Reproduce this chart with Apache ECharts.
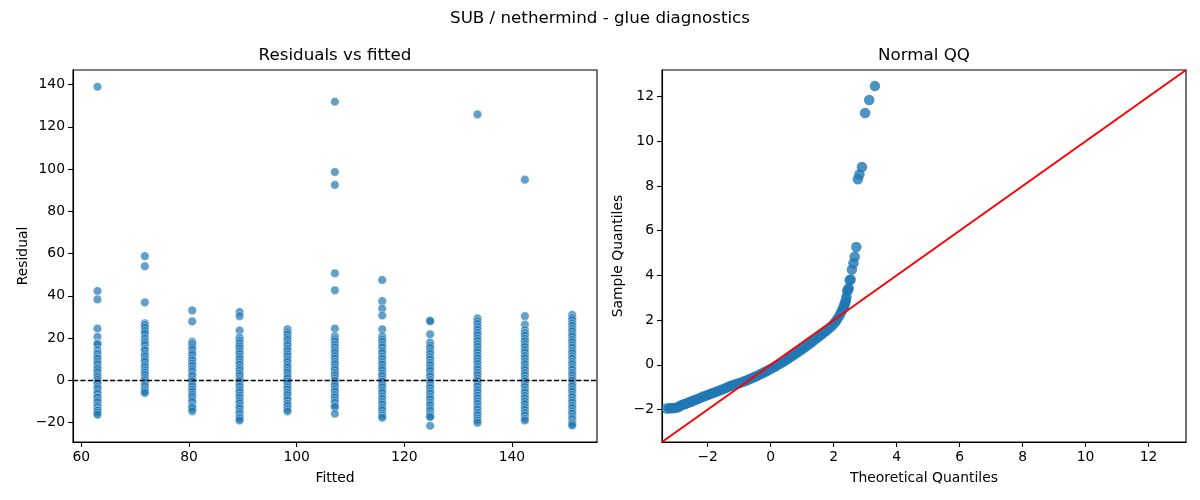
<!DOCTYPE html>
<html>
<head>
<meta charset="utf-8">
<title>SUB / nethermind - glue diagnostics</title>
<script src="https://cdn.jsdelivr.net/npm/echarts@6.0.0/dist/echarts.min.js"></script>
<style>
  html, body { margin: 0; padding: 0; background: #fff; }
  #main { width: 1200px; height: 500px; }
</style>
</head>
<body>
<div id="main"></div>
<script>
// fitted levels (one column of residuals each)
var fittedLevels = [63.0, 71.8, 80.6, 89.4, 98.3, 107.1, 115.9, 124.8, 133.6, 142.4, 151.2];

// residuals read per column
var res63 = [139.0, 42.3, 38.3, 24.5, 20.6, 17.4, 17.1, 14.3, 12.6, 11.0, 10.2, 8.7, 7.6, 6.1, 5.2, 3.9, 2.4, 1.5, 0.3, -0.9, -1.7, -3.2, -4.1, -5.6, -6.4, -7.9, -8.1, -9.6, -10.4, -11.9, -12.8, -14.0, -14.3, -15.3, -16.3];
var res72 = [58.8, 54.0, 36.9, 27.0, 26.2, 24.9, 23.4, 22.1, 19.9, 18.2, 16.9, 15.0, 14.1, 12.4, 11.4, 9.9, 8.9, 7.2, 6.2, 4.8, 3.7, 2.6, 1.2, 0.1, -1.0, -2.2, -3.0, -4.3, -5.1, -6.0];
var res81 = [33.1, 27.9, 18.2, 17.1, 15.7, 14.6, 13.0, 12.1, 10.4, 9.4, 8.0, 6.9, 5.4, 4.4, 2.9, 2.0, 0.5, -0.4, -1.9, -2.9, -4.3, -5.4, -6.8, -7.9, -9.3, -10.3, -11.9, -12.6, -13.2, -14.6];
var res89 = [32.3, 30.4, 23.6, 20.3, 18.9, 17.7, 16.3, 15.2, 13.7, 12.6, 11.1, 10.0, 8.5, 7.4, 5.9, 4.8, 3.3, 2.2, 0.7, -0.4, -1.9, -3.0, -4.5, -5.6, -7.1, -8.2, -9.7, -10.8, -12.3, -13.4, -14.9, -15.9, -17.3, -18.0, -19.0];
var res98 = [24.2, 22.8, 21.7, 20.2, 19.1, 17.6, 16.5, 15.0, 13.9, 12.4, 11.3, 9.8, 8.7, 7.2, 6.1, 4.6, 3.5, 2.0, 0.9, -0.6, -1.7, -3.2, -4.3, -5.8, -6.9, -8.4, -9.5, -11.0, -12.1, -13.6, -14.7];
var res107 = [131.9, 98.6, 92.5, 50.7, 42.6, 24.5, 20.9, 19.5, 18.5, 16.9, 15.6, 14.1, 13.0, 11.5, 10.3, 8.8, 7.7, 6.1, 5.0, 3.5, 2.4, 0.9, -0.2, -1.7, -2.8, -4.3, -5.4, -6.9, -8.0, -9.5, -10.6, -12.0, -12.7, -15.8];
var res116 = [47.5, 37.5, 34.0, 30.7, 24.2, 20.9, 19.4, 18.3, 16.7, 15.6, 14.0, 12.9, 11.3, 10.2, 8.6, 7.5, 5.9, 4.8, 3.2, 2.1, 0.5, -0.6, -2.2, -3.3, -4.9, -6.0, -7.6, -8.7, -10.3, -11.4, -13.0, -14.1, -15.7, -16.8, -17.7];
var res125 = [28.3, 28.0, 21.8, 17.9, 16.4, 15.3, 13.7, 12.6, 11.0, 9.9, 8.3, 7.2, 5.6, 4.5, 2.9, 1.8, 0.2, -0.9, -2.5, -3.6, -5.2, -6.3, -7.9, -9.0, -10.6, -11.7, -13.3, -14.4, -16.0, -17.0, -17.4, -21.5];
var res134 = [125.9, 29.3, 27.9, 26.7, 25.2, 24.0, 22.5, 21.3, 19.8, 18.6, 17.1, 15.9, 14.4, 13.2, 11.7, 10.5, 9.0, 7.8, 6.3, 5.1, 3.6, 2.4, 0.9, -0.3, -1.8, -3.0, -4.5, -5.7, -7.2, -8.4, -9.9, -11.1, -12.6, -13.8, -15.3, -16.5, -18.0, -19.0, -20.1];
var res142 = [95.0, 30.4, 26.4, 23.8, 22.4, 21.2, 19.7, 18.5, 17.0, 15.8, 14.3, 13.1, 11.6, 10.4, 8.9, 7.7, 6.2, 5.0, 3.5, 2.3, 0.8, -0.4, -1.9, -3.1, -4.6, -5.8, -7.3, -8.5, -10.0, -11.2, -12.7, -13.9, -15.4, -16.6, -18.1, -19.0];
var res151 = [31.0, 29.6, 28.5, 27.0, 25.9, 24.4, 23.3, 21.8, 20.7, 19.2, 18.1, 16.6, 15.5, 14.0, 12.9, 11.4, 10.3, 8.8, 7.7, 6.2, 5.1, 3.6, 2.5, 1.0, -0.1, -1.6, -2.7, -4.2, -5.3, -6.8, -7.9, -9.4, -10.5, -12.0, -13.1, -14.6, -15.7, -17.2, -18.3, -19.8, -20.6, -21.4];

// normal QQ points (theoretical, sample)
var qqTheo = [-3.30, -3.22, -3.15, -3.08, -3.00, -2.94, -2.88, -2.82, -2.76, -2.70, -2.64, -2.58, -2.52, -2.46, -2.40, -2.32, -2.24, -2.16, -2.08, -2.00,
  -1.92, -1.84, -1.76, -1.68, -1.60, -1.52, -1.44, -1.36, -1.28, -1.20, -1.12, -1.04, -0.96, -0.88, -0.80, -0.72, -0.64, -0.56, -0.48, -0.40,
  -0.32, -0.24, -0.16, -0.08, 0.00, 0.08, 0.16, 0.24, 0.32, 0.40, 0.48, 0.56, 0.64, 0.72, 0.80, 0.88, 0.96, 1.04, 1.12, 1.20,
  1.28, 1.36, 1.44, 1.52, 1.60, 1.68, 1.76, 1.84, 1.92, 2.00, 2.06, 2.12, 2.18, 2.23, 2.28, 2.31, 2.33, 2.35, 2.37, 2.39,
  2.41, 2.43, 2.46, 2.48, 2.51, 2.54, 2.58, 2.63, 2.67, 2.72, 2.77, 2.82, 2.90, 3.00, 3.13, 3.31];
var qqSample = [-1.95, -1.94, -1.94, -1.93, -1.92, -1.90, -1.84, -1.80, -1.77, -1.74, -1.70, -1.67, -1.64, -1.60, -1.57, -1.53, -1.48, -1.43, -1.39, -1.35,
  -1.30, -1.26, -1.22, -1.18, -1.13, -1.09, -1.05, -0.99, -0.95, -0.91, -0.87, -0.83, -0.80, -0.76, -0.72, -0.67, -0.62, -0.57, -0.52, -0.47,
  -0.41, -0.36, -0.30, -0.24, -0.18, -0.12, -0.06, 0.01, 0.07, 0.14, 0.21, 0.28, 0.36, 0.43, 0.51, 0.58, 0.66, 0.74, 0.82, 0.91,
  0.99, 1.08, 1.17, 1.26, 1.34, 1.43, 1.51, 1.61, 1.71, 1.83, 1.93, 2.05, 2.19, 2.33, 2.47, 2.54, 2.63, 2.73, 2.78, 2.90,
  3.05, 3.31, 3.36, 3.43, 3.79, 3.82, 4.26, 4.55, 4.84, 5.27, 8.30, 8.52, 8.85, 11.27, 11.85, 12.47];

// axis limits and ticks
var residXLim = [58.45, 155.8];
var residYLim = [-29.2, 146.9];
var qqLim = [-3.45, 13.19];
var residXTicks = [60, 80, 100, 120, 140];
var residYTicks = [-20, 0, 20, 40, 60, 80, 100, 120, 140];
var qqTicks = [-2, 0, 2, 4, 6, 8, 10, 12];

var resCols = [res63, res72, res81, res89, res98, res107, res116, res125, res134, res142, res151];
var residPts = [];
for (var i = 0; i < fittedLevels.length; i++) {
    for (var j = 0; j < resCols[i].length; j++) {
        residPts.push([fittedLevels[i], resCols[i][j]]);
    }
}
var qqPts = [];
for (var k = 0; k < qqTheo.length; k++) {
    qqPts.push([qqTheo[k], qqSample[k]]);
}

var FONT = 'DejaVu Sans';
var minus = function (v) { return String(v).replace('-', '\u2212'); };

function axis(gridIndex, lim, ticks, name, isY, gap) {
    return {
        type: 'value',
        gridIndex: gridIndex,
        min: lim[0],
        max: lim[1],
        name: name,
        nameLocation: 'middle',
        nameGap: gap,
        nameRotate: isY ? 90 : 0,
        nameTextStyle: { fontFamily: FONT, fontSize: 13.9, color: '#000' },
        axisLine: { show: true, onZero: false, lineStyle: { color: '#000', width: 1.1 } },
        axisTick: { show: true, customValues: ticks, length: 5, lineStyle: { color: '#000', width: 1.1 } },
        axisLabel: { customValues: ticks, formatter: minus, fontFamily: FONT, fontSize: 13.9, color: '#000', margin: 8 },
        splitLine: { show: false }
    };
}

var myChart = echarts.init(document.getElementById('main'));
var option = {
    animation: false,
    backgroundColor: '#fff',
    title: [
        { text: 'SUB / nethermind - glue diagnostics', left: 600, top: 10, textAlign: 'center', padding: 0,
          textStyle: { fontFamily: FONT, fontSize: 16.7, fontWeight: 'normal', color: '#000' } },
        { text: 'Residuals vs fitted', left: 335, top: 47, textAlign: 'center', padding: 0,
          textStyle: { fontFamily: FONT, fontSize: 16.7, fontWeight: 'normal', color: '#000' } },
        { text: 'Normal QQ', left: 924, top: 47, textAlign: 'center', padding: 0,
          textStyle: { fontFamily: FONT, fontSize: 16.7, fontWeight: 'normal', color: '#000' } }
    ],
    grid: [
        { left: 73, top: 70, width: 524, height: 372, show: true, borderColor: '#000', borderWidth: 1.1 },
        { left: 662, top: 70, width: 524, height: 372, show: true, borderColor: '#000', borderWidth: 1.1 }
    ],
    xAxis: [
        axis(0, residXLim, residXTicks, 'Fitted', false, 29),
        axis(1, qqLim, qqTicks, 'Theoretical Quantiles', false, 29)
    ],
    yAxis: [
        axis(0, residYLim, residYTicks, 'Residual', true, 43),
        axis(1, qqLim, qqTicks, 'Sample Quantiles', true, 37)
    ],
    series: [
        {
            name: 'residuals',
            type: 'scatter',
            xAxisIndex: 0,
            yAxisIndex: 0,
            data: residPts,
            symbolSize: 8.6,
            itemStyle: { color: '#1f77b4', borderColor: '#fff', borderWidth: 0.6, opacity: 0.7 },
            emphasis: { disabled: true },
            markLine: {
                silent: true,
                symbol: 'none',
                label: { show: false },
                lineStyle: { color: '#000', type: [5.2, 2.2], width: 1.4 },
                data: [{ yAxis: 0 }]
            }
        },
        {
            name: 'qq',
            type: 'scatter',
            xAxisIndex: 1,
            yAxisIndex: 1,
            data: qqPts,
            symbolSize: 10.5,
            itemStyle: { color: '#1f77b4' },
            emphasis: { disabled: true }
        },
        {
            name: '45 line',
            type: 'line',
            xAxisIndex: 1,
            yAxisIndex: 1,
            data: [[qqLim[0], qqLim[0]], [qqLim[1], qqLim[1]]],
            symbol: 'none',
            lineStyle: { color: '#ff0000', width: 2 },
            z: 5
        }
    ]
};
myChart.setOption(option);
</script>
</body>
</html>
